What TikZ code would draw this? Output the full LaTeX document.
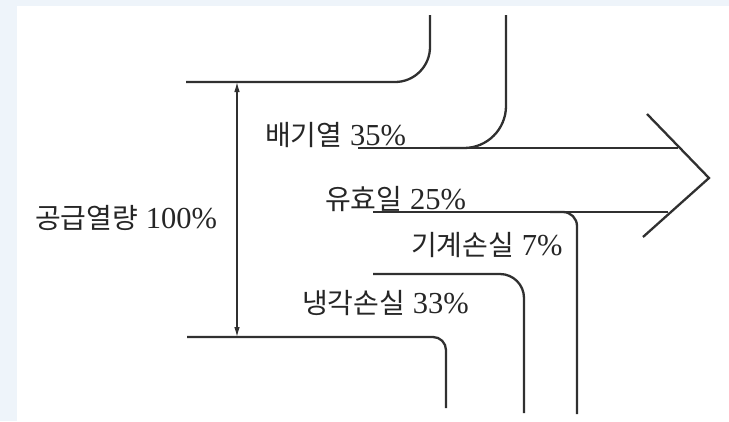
\documentclass[tikz,border=0pt]{standalone}
\usepackage{fontspec}
\setmainfont{Liberation Serif}
\newfontfamily\kr{Noto Sans CJK KR}
\usetikzlibrary{arrows.meta}
\definecolor{bgblue}{HTML}{EEF4FA}
\definecolor{ink}{HTML}{262626}
\definecolor{linec}{HTML}{303030}
\newcommand{\hg}[1]{{\kr\fontsize{28}{30}\selectfont #1}}
\tikzset{
  flow/.style={draw=linec, line width=2.3pt},
  dim/.style={draw=linec, line width=1.1pt, {Latex[length=10pt,width=5.5pt]}-{Latex[length=10pt,width=5.5pt]}},
  lbl/.style={anchor=base west, inner sep=0pt, text=ink, font=\fontsize{30.5}{32}\selectfont}
}
\begin{document}
\begin{tikzpicture}[x=1pt,y=-1pt]
\useasboundingbox (0,0) rectangle (729,421);
\fill[bgblue] (0,0) rectangle (729,421);
\fill[white] (17,6) rectangle (729,421);
% coordinates
\coordinate (topL) at (186,82);
\coordinate (topC) at (430,82);
\coordinate (topE) at (430,15);
\coordinate (exE) at (506,15);
\coordinate (exC) at (506,148);
\coordinate (exJ) at (440,148);
\coordinate (l1s) at (358,148);
\coordinate (l1e) at (678,148);
\coordinate (hd1) at (647,114);
\coordinate (tip) at (709,178);
\coordinate (hd2) at (643,237);
\coordinate (l2s) at (373,212);
\coordinate (l2e) at (668,212);
\coordinate (mJ) at (550,212);
\coordinate (mC) at (577,212);
\coordinate (mE) at (577,414);
\coordinate (cS) at (373,274);
\coordinate (cC) at (524,274);
\coordinate (cE) at (524,413);
\coordinate (bS) at (187,337);
\coordinate (bC) at (446,337);
\coordinate (bE) at (446,408);
\coordinate (dT) at (237,82);
\coordinate (dB) at (237,337);
% flow lines
\draw[flow, rounded corners=35pt] (topL) -- (topC) -- (topE);
\draw[flow, rounded corners=42pt] (exE) -- (exC) -- (exJ);
\draw[flow] (l1s) -- (l1e);
\draw[flow, line join=miter] (hd1) -- (tip) -- (hd2);
\draw[flow] (l2s) -- (l2e);
\draw[flow, rounded corners=14pt] (mJ) -- (mC) -- (mE);
\draw[flow, rounded corners=24pt] (cS) -- (cC) -- (cE);
\draw[flow, rounded corners=13pt] (bS) -- (bC) -- (bE);
% dimension arrow
\draw[dim] (dT) -- (dB);
% labels
\node[lbl] (supply) at (35,228) {\hg{공급열량} 100\%};
\node[lbl] (exhaust) at (265,145) {\hg{배기열} 35\%};
\node[lbl] (work) at (325,209) {\hg{유효일} 25\%};
\node[lbl] (mech) at (411,255) {\hg{기계손실} 7\%};
\node[lbl] (cool) at (302,313) {\hg{냉각손실} 33\%};
\end{tikzpicture}
\end{document}
